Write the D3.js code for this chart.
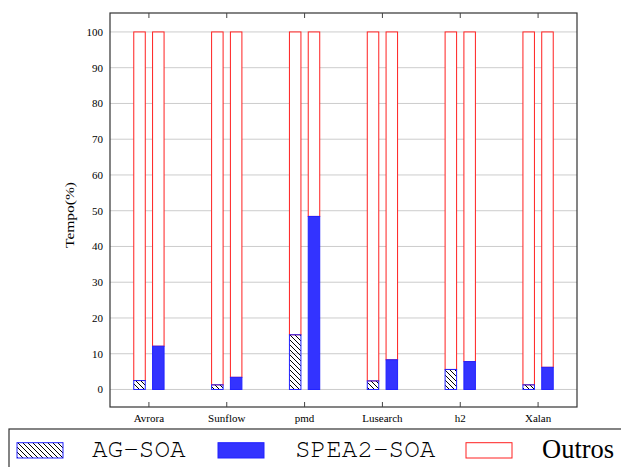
<!DOCTYPE html>
<html><head><meta charset="utf-8">
<script src="https://cdn.jsdelivr.net/npm/d3@7"></script>
<style>body{margin:0;background:#fff;} svg{display:block;}
.serif{font-family:"Liberation Serif","Times New Roman",Times,serif;}
.mono{font-family:"Nimbus Mono PS","Nimbus Mono L","FreeMono",Courier,"Liberation Mono",monospace;}
</style>
</head><body>
<script>
const categories = ["Avrora","Sunflow","pmd","Lusearch","h2","Xalan"];
const agSoa = [2.5, 1.3, 15.3, 2.4, 5.6, 1.3];
const spea2Soa = [12.1, 3.4, 48.4, 8.3, 7.8, 6.2];
const total = [100, 100, 100, 100, 100, 100];
const yTicks = [0,10,20,30,40,50,60,70,80,90,100];
const legendLabels = ["AG-SOA","SPEA2-SOA","Outros"];

const W = 621, H = 467;
const svg = d3.select("body").append("svg").attr("width", W).attr("height", H);
const defs = svg.append("defs");
const pat = defs.append("pattern").attr("id","hatch").attr("patternUnits","userSpaceOnUse")
  .attr("width",5).attr("height",5);
pat.append("path").attr("d","M-1,-1 L6,6 M-6,-1 L1,6 M4,-1 L11,6").attr("stroke","#000").attr("stroke-width",1);

const L = 110, R = 577, T = 13, B = 407;
const x = d3.scalePoint().domain(categories).range([L, R]).padding(0.5);
const y = d3.scaleLinear().domain([-4.9, 105.3]).range([B, T]);

// grid
svg.append("g").selectAll("line").data(yTicks).join("line")
  .attr("x1", L).attr("x2", R).attr("y1", d=>y(d)).attr("y2", d=>y(d))
  .attr("stroke", "#bfbfbf").attr("stroke-width", 0.8);

// y tick labels
svg.append("g").attr("class","serif").selectAll("text").data(yTicks).join("text")
  .attr("x", L - 7).attr("y", d=>y(d)).attr("dy","0.35em").attr("text-anchor","end")
  .attr("font-size", 11).text(d=>d);

const bw = 11.5, off = 9.4;
const g = svg.append("g");
categories.forEach((c,i)=>{
  const cx = x(c);
  g.append("rect").attr("x", cx-off-bw/2).attr("y", y(total[i])).attr("width", bw)
    .attr("height", y(agSoa[i]) - y(total[i])).attr("fill","#fff").attr("stroke","#ff2020").attr("stroke-width",1);
  g.append("rect").attr("x", cx-off-bw/2).attr("y", y(agSoa[i])).attr("width", bw)
    .attr("height", y(0)-y(agSoa[i])).attr("fill","url(#hatch)").attr("stroke","#2222ff").attr("stroke-width",1);
  g.append("rect").attr("x", cx+off-bw/2).attr("y", y(total[i])).attr("width", bw)
    .attr("height", y(spea2Soa[i]) - y(total[i])).attr("fill","#fff").attr("stroke","#ff2020").attr("stroke-width",1);
  g.append("rect").attr("x", cx+off-bw/2).attr("y", y(spea2Soa[i])).attr("width", bw)
    .attr("height", y(0)-y(spea2Soa[i])).attr("fill","#3333ff").attr("stroke","#2222ff").attr("stroke-width",1);
});

// frame
svg.append("rect").attr("x", L).attr("y", T).attr("width", R-L).attr("height", B-T)
  .attr("fill","none").attr("stroke","#333").attr("stroke-width",1.2);
categories.forEach(c=>{
  svg.append("line").attr("x1",x(c)).attr("x2",x(c)).attr("y1",B).attr("y2",B-5).attr("stroke","#444");
  svg.append("line").attr("x1",x(c)).attr("x2",x(c)).attr("y1",T).attr("y2",T+5).attr("stroke","#444");
});
svg.append("g").attr("class","serif").selectAll("text").data(categories).join("text")
  .attr("x", d=>x(d)).attr("y", 422).attr("text-anchor","middle")
  .attr("font-size", 11).text(d=>d);

svg.append("text").attr("class","serif").attr("transform", `translate(73.5,215) rotate(-90)`)
  .attr("text-anchor","middle").attr("font-size", 11.5)
  .attr("textLength", 66).attr("lengthAdjust","spacingAndGlyphs").text("Tempo(%)");

// legend
svg.append("rect").attr("x",9).attr("y",429).attr("width",630).attr("height",60)
  .attr("fill","#fff").attr("stroke","#333").attr("stroke-width",1.2);
const lg = svg.append("g");
const sw = [17, 218, 466];
const tx = [92, 295, 542];
const sy = 442.7, sh = 15.3, swd = 46;
lg.append("rect").attr("x",sw[0]).attr("y",sy).attr("width",swd).attr("height",sh)
  .attr("fill","url(#hatch)").attr("stroke","#2222ff");
lg.append("rect").attr("x",sw[1]).attr("y",sy).attr("width",swd).attr("height",sh)
  .attr("fill","#3333ff").attr("stroke","#2222ff");
lg.append("rect").attr("x",sw[2]).attr("y",sy).attr("width",swd).attr("height",sh)
  .attr("fill","#fff").attr("stroke","#ff2020");
lg.append("text").attr("class","mono").attr("x",tx[0]).attr("y",456.7).attr("font-size",26).text(legendLabels[0]);
lg.append("text").attr("class","mono").attr("x",tx[1]).attr("y",456.7).attr("font-size",26).text(legendLabels[1]);
lg.append("text").attr("class","serif").attr("x",tx[2]).attr("y",457.7).attr("font-size",26.5).text(legendLabels[2]);
</script>
</body></html>
